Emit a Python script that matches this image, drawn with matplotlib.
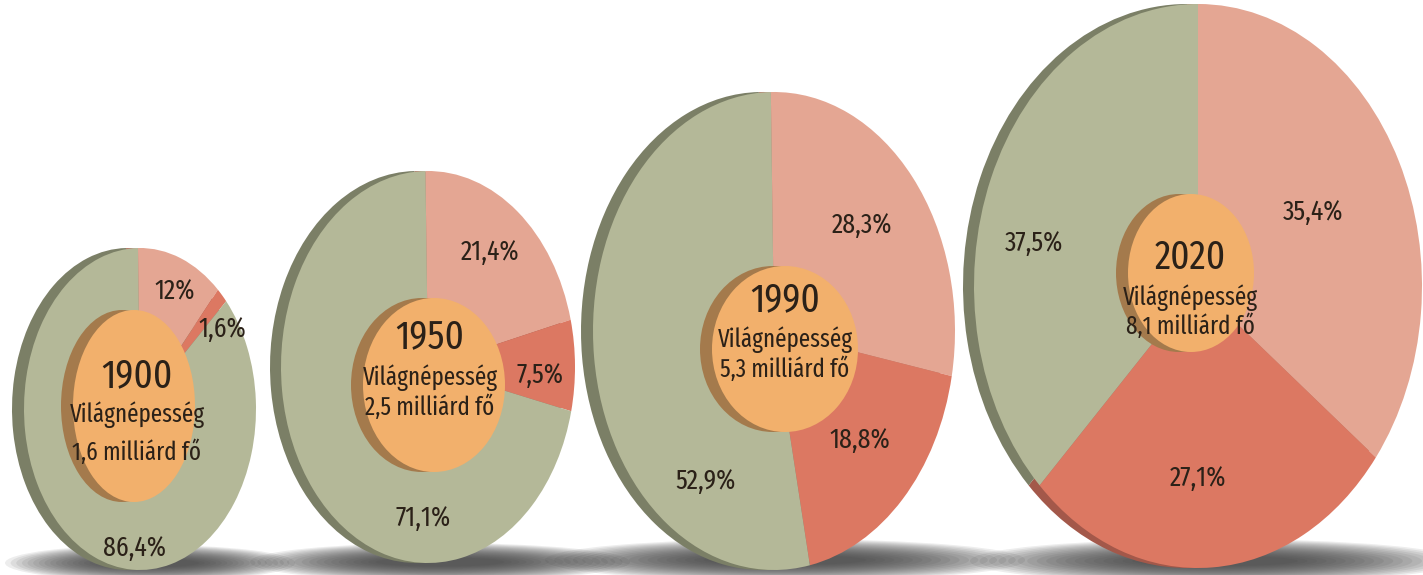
import matplotlib
matplotlib.use('Agg')
import matplotlib.pyplot as plt
from matplotlib.patches import Ellipse

# ---------------- data ----------------
years = ['1900', '1950', '1990', '2020']
population = ['1,6', '2,5', '5,3', '8,1']
share_pink = [12.0, 21.4, 28.3, 35.4]
share_red = [1.6, 7.5, 18.8, 27.1]
share_green = [86.4, 71.1, 52.9, 37.5]
title_word = 'Világnépesség'

# ---------------- style ----------------
col_face = ['#e4a693', '#dc7862', '#b4b898']
col_edge = ['#b57c6c', '#a3584a', '#7b7f66']
col_orange = '#f2b06c'
col_orange_dark = '#a47a4c'
txt_col = '#2b2118'
FONT = ['Fira Sans Extra Condensed', 'Barlow Condensed', 'DejaVu Sans']
WEIGHT = 'normal'

W, H = 1423, 575
# layout in pixels (y downward): face centre, semi axes
pie_cx = [140, 428, 774, 1198]
pie_cy = [409, 367, 331, 286]
pie_a = [116, 147, 181, 224]
pie_b = [161, 196, 239, 282]
edge_dx = [12, 11, 12, 11]
start = [91, 91, 91, 90]
# orange centre disc
or_cx = [134, 434, 785, 1191]
or_cy = [406, 385, 349, 273]
or_a = [61, 71, 73, 63]
or_b = [96, 87, 83, 79]
# label positions (pixels) for pink, red, green
lab_pos = [
    [(175, 292), (222, 329), (135, 548)],
    [(490, 252), (540, 375), (423, 518)],
    [(862, 225), (860, 440), (706, 481)],
    [(1313, 212), (1198, 478), (1034, 243)],
]
center_txt_x = [137, 430, 785, 1190]
center_txt_y = [(376, 415, 452), (337, 378, 407), (300, 340, 369), (258, 298, 326)]
shadow = [(150, 563, 290, 36), (440, 562, 380, 38), (785, 560, 480, 42), (1215, 561, 490, 44)]

fig = plt.figure(figsize=(W / 100, H / 100), dpi=100)
fig.patch.set_facecolor('white')

# background axes for shadows
bg = fig.add_axes([0, 0, 1, 1])
bg.set_xlim(0, W)
bg.set_ylim(H, 0)
bg.axis('off')
for (sx, sy, sw, sh) in shadow:
    n = 18
    for k in range(n):
        f = 1 - k / n
        bg.add_patch(Ellipse((sx, sy), sw * (0.3 + 0.7 * f), sh * (0.2 + 0.8 * f),
                             facecolor='#3a3a3a', edgecolor='none', alpha=0.09))


def fmt(v):
    return ('%g' % v).replace('.', ',') + '%'


M = 1.25
for i in range(4):
    cx, cy, a, b = pie_cx[i], pie_cy[i], pie_a[i], pie_b[i]
    ax = fig.add_axes([(cx - M * a) / W, (H - (cy + M * b)) / H, 2 * M * a / W, 2 * M * b / H])
    vals = [share_pink[i], share_red[i], share_green[i]]
    ax.pie(vals, colors=col_edge, startangle=start[i], counterclock=False, radius=1,
           center=(-edge_dx[i] / a, 0), wedgeprops=dict(linewidth=0))
    ax.pie(vals, colors=col_face, startangle=start[i], counterclock=False, radius=1,
           center=(0, 0), wedgeprops=dict(linewidth=0))
    # orange disc
    ox = (or_cx[i] - cx) / a
    oy = -(or_cy[i] - cy) / b
    ax.add_patch(Ellipse((ox - 12 / a, oy), 2 * or_a[i] / a, 2 * or_b[i] / b,
                         facecolor=col_orange_dark, edgecolor='none'))
    ax.add_patch(Ellipse((ox, oy), 2 * or_a[i] / a, 2 * or_b[i] / b,
                         facecolor=col_orange, edgecolor='none'))
    ax.set_aspect('auto')
    ax.set_xlim(-M, M)
    ax.set_ylim(-M, M)
    ax.axis('off')

    for v, (lx, ly) in zip(vals, lab_pos[i]):
        fig.text(lx / W, 1 - ly / H, fmt(v), ha='center', va='center',
                 fontsize=20, color=txt_col, family=FONT, fontweight=WEIGHT)
    tx = center_txt_x[i] / W
    y1, y2, y3 = center_txt_y[i]
    fig.text(tx, 1 - y1 / H, years[i], ha='center', va='center', fontsize=29,
             color=txt_col, family=FONT, fontweight=WEIGHT)
    fig.text(tx, 1 - y2 / H, title_word, ha='center', va='center', fontsize=18,
             color=txt_col, family=FONT, fontweight=WEIGHT)
    fig.text(tx, 1 - y3 / H, population[i] + ' milliárd fő', ha='center', va='center',
             fontsize=18, color=txt_col, family=FONT, fontweight=WEIGHT)

fig.savefig('out.png', dpi=100, facecolor='white')
